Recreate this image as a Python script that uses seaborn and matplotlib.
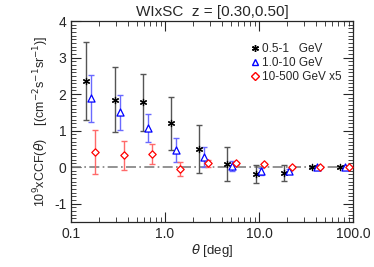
import numpy as np
import pandas as pd
import matplotlib
matplotlib.use('Agg')
import matplotlib.pyplot as plt
import seaborn as sns
from matplotlib.ticker import FixedLocator, FixedFormatter, LogLocator, MultipleLocator, NullFormatter

# ===============================
# Datos
# ===============================
theta = [0.145, 0.294, 0.587, 1.16, 2.3, 4.6, 9.2, 18.3, 36.6, 73.0]

ccf_low = [2.35, 1.85, 1.78, 1.20, 0.50, 0.08, -0.19, -0.16, 0.00, 0.00]
err_low = [1.07, 0.88, 0.78, 0.73, 0.65, 0.47, 0.25, 0.21, 0.03, 0.02]

ccf_mid = [1.88, 1.50, 1.08, 0.47, 0.28, 0.03, -0.12, -0.10, 0.00, 0.00]
err_mid = [0.65, 0.48, 0.38, 0.32, 0.27, 0.15, 0.09, 0.05, 0.02, 0.02]

ccf_high = [0.42, 0.32, 0.35, -0.05, 0.10, 0.10, 0.08, 0.00, 0.00, 0.00]
err_high = [0.60, 0.39, 0.27, 0.19, 0.10, 0.05, 0.03, 0.02, 0.02, 0.02]

labels = ['0.5-1   GeV', '1.0-10 GeV', '10-500 GeV x5']
shifts = [1.0, 1.13, 1.23]
colors = ['black', 'blue', 'red']
err_colors = ['#555555', '#6a6aff', '#ff6a6a']
markers = [(6, 2, 0), '^', 'D']
sizes = [20, 26, 14]

series = [(ccf_low, err_low), (ccf_mid, err_mid), (ccf_high, err_high)]

rows = []
for lab, s, (v, e) in zip(labels, shifts, series):
    for t, vv, ee in zip(theta, v, e):
        rows.append({'theta': t * s, 'ccf': vv, 'err': ee, 'band': lab})
df = pd.DataFrame(rows)

# ===============================
# Grafico
# ===============================
sns.set_style('ticks')
plt.rcParams['font.family'] = ['Liberation Sans', 'DejaVu Sans']
plt.rcParams['mathtext.fontset'] = 'dejavusans'

fig = plt.figure(figsize=(3.74, 2.67), dpi=100)
ax = fig.add_axes([0.19, 0.169, 0.754, 0.752])

ax.axhline(0, color='gray', lw=1.2, ls=(0, (6, 2, 1, 2)), zorder=1)

for lab, ec, c, m, sz in zip(labels, err_colors, colors, markers, sizes):
    d = df[df['band'] == lab]
    ax.errorbar(d['theta'], d['ccf'], yerr=d['err'], fmt='none', ecolor=ec,
                elinewidth=1.0, capsize=2, capthick=1.0, zorder=2)
    if lab == labels[0]:
        sns.scatterplot(data=d, x='theta', y='ccf', marker=m, color=c, s=sz,
                        linewidth=0.9, edgecolor=c, ax=ax, zorder=3)
    else:
        sns.scatterplot(data=d, x='theta', y='ccf', marker=m, s=sz,
                        facecolor='white', edgecolor=c, linewidth=0.9, ax=ax, zorder=3)

ax.set_xscale('log')
ax.set_xlim(0.1, 100)
ax.set_ylim(-1.5, 4)

ax.xaxis.set_major_locator(FixedLocator([0.1, 1, 10, 100]))
ax.xaxis.set_major_formatter(FixedFormatter(['0.1', '1.0', '10.0', '100.0']))
ax.xaxis.set_minor_locator(LogLocator(base=10, subs=np.arange(2, 10)))
ax.xaxis.set_minor_formatter(NullFormatter())
ax.yaxis.set_major_locator(MultipleLocator(1))
ax.yaxis.set_minor_locator(MultipleLocator(0.1))
ax.yaxis.set_major_formatter(plt.FuncFormatter(lambda v, p: '%d' % round(v)))

ax.tick_params(which='both', direction='in', top=True, right=True, labelsize=10)
ax.tick_params(which='major', length=7, width=0.8)
ax.tick_params(which='minor', length=3.5, width=0.6)
for sp in ax.spines.values():
    sp.set_linewidth(0.9)

ax.set_title('WIxSC  z = [0.30,0.50]', fontsize=11, pad=4)
ax.set_xlabel(r'$\theta$ [deg]', fontsize=9.5, labelpad=1)
ax.set_ylabel(r'10$^9$xCCF($\theta$)    [(cm$^{-2}$s$^{-1}$sr$^{-1}$)]', fontsize=9, labelpad=2)

# leyenda
handles = []
for lab, c, m in zip(labels, colors, markers):
    fc = c if lab == labels[0] else 'white'
    handles.append(plt.Line2D([], [], ls='none', marker=m, color=c, markerfacecolor=fc,
                              markeredgecolor=c, markersize=5 if m != 'D' else 4, label=lab))
ax.legend(handles=handles, loc='upper right', bbox_to_anchor=(0.99, 0.93), frameon=False,
          fontsize=8.5, handletextpad=0.1, labelspacing=0.15, borderpad=0.2, handlelength=1.0)

fig.savefig('out.png', dpi=100)
